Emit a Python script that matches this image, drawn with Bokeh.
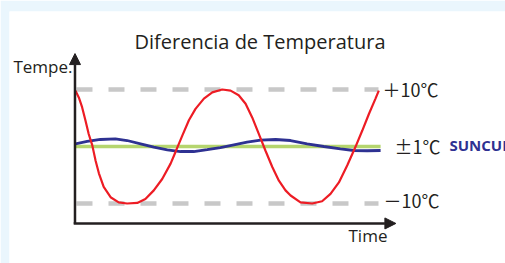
from bokeh.plotting import figure
from bokeh.models import Range1d, Arrow, NormalHead
from bokeh.core.properties import value
from bokeh.embed import file_html
from bokeh.resources import INLINE

# ---- data (time units, temperature difference in °C) ----
title_text = "Diferencia de Temperatura"
y_label = "Tempe."
x_label = "Time"
level_labels = ["＋10℃", "±1℃", "－10℃"]
brand = "SUNCUE"

limit_hi = 10.0
limit_lo = -10.0
target = 0.0

time_start = 0.33
time_end = 101.0

red_t = [0, 1.1, 2.2, 3.3, 4.4, 5.6, 6.7, 7.8, 9.4, 11.7, 14.4, 17.2, 20.6, 23.3,
         26.1, 28.9, 31.7, 33.3, 35.6, 37.8, 40.0, 42.8, 45.6, 48.9, 51.7, 54.4,
         56.7, 58.9, 61.1, 63.3, 65.6, 67.8, 70.0, 71.7, 75.0, 78.9, 82.2, 85.0,
         87.8, 90.6, 93.3, 95.6, 97.8, 100.0, 101.1]
red_T = [9.8, 8.6, 6.9, 4.6, 2.2, 0.2, -2.5, -4.7, -7.1, -8.9, -9.8, -10.0, -9.9, -9.2,
         -7.7, -5.7, -3.0, -1.0, 1.9, 4.6, 6.6, 8.4, 9.5, 10.0, 9.8, 9.0,
         7.5, 5.1, 2.2, -0.7, -3.6, -6.0, -7.7, -8.6, -9.8, -10.0, -9.6, -8.3,
         -6.3, -3.3, -0.1, 2.8, 5.7, 8.4, 9.8]

blue_t = [0, 3.9, 8.3, 13.3, 17.2, 21.7, 26.1, 30.6, 35.0, 39.4, 43.9, 48.3, 52.8,
          57.2, 61.7, 66.7, 71.7, 77.2, 82.8, 88.3, 92.8, 97.2, 101.7]
blue_T = [0.47, 0.88, 1.23, 1.35, 1.05, 0.47, -0.12, -0.58, -0.88, -0.88, -0.53, -0.18, 0.30,
          0.75, 1.11, 1.23, 1.05, 0.47, 0.0, -0.40, -0.70, -0.75, -0.70]

green_t = [0, 101.7]
green_T = [target, target]

# ---- figure ----
BG = "#EAF6FD"
W, H = 505, 263
p = figure(width=W, height=H, output_backend="svg", toolbar_location=None,
           x_axis_location=None, y_axis_location=None,
           min_border_left=9, min_border_top=11, min_border_right=0, min_border_bottom=0,
           x_range=Range1d(-22, -22 + 496 / 3.0),
           y_range=Range1d(23.684 - 252 / 5.7, 23.684))
p.grid.visible = False
p.outline_line_color = None
p.border_fill_color = BG
p.background_fill_color = "white"

TXT = "#231F20"

# limit dashed lines
for lvl in (limit_hi, limit_lo):
    p.line([time_start, time_end], [lvl, lvl], line_color="#C8C8C8",
           line_width=4.5, line_dash="16 16")

p.line(green_t, green_T, line_color="#B5D56E", line_width=3.5)
p.line(blue_t, blue_T, line_color="#2E3192", line_width=2.8)
p.line(red_t, red_T, line_color="#ED1C24", line_width=2.2)

# axes with arrows
p.add_layout(Arrow(x_start=-0.17, y_start=-13.56, x_end=-0.17, y_end=16.3,
                   line_color=TXT, line_width=2.5,
                   end=NormalHead(size=11, fill_color=TXT, line_color=TXT, line_width=1)))
p.add_layout(Arrow(x_start=-0.6, y_start=-13.5, x_end=106.8, y_end=-13.5,
                   line_color=TXT, line_width=2.5,
                   end=NormalHead(size=11, fill_color=TXT, line_color=TXT, line_width=1)))

# texts
p.text(x=[61.5], y=[18.5], text=[title_text], text_font=value("Open Sans"),
       text_font_size="20px", text_color=TXT, text_align="center",
       text_baseline="alphabetic")
p.text(x=[-20.7], y=[14.1], text=[y_label], text_font=value("Open Sans"),
       text_font_size="17px", text_color=TXT, text_align="left",
       text_baseline="alphabetic")
p.text(x=[91.0], y=[-15.6], text=[x_label], text_font=value("Open Sans"),
       text_font_size="17px", text_color=TXT, text_align="left",
       text_baseline="alphabetic")

lbl_x = [102.33, 106.33, 102.67]
lbl_y = [10.05, 0.12, -9.4]
p.text(x=lbl_x, y=lbl_y, text=level_labels, text_font=value("Noto Sans CJK JP"),
       text_font_size="18px", text_color=TXT, text_align="left",
       text_baseline="alphabetic")

p.text(x=[124.67], y=[0.23], text=[brand], text_font=value("Open Sans"),
       text_font_size="15px", text_font_style="bold", text_color="#2E3192",
       text_align="left", text_baseline="alphabetic")

open("out.html", "w").write(file_html(p, INLINE))
